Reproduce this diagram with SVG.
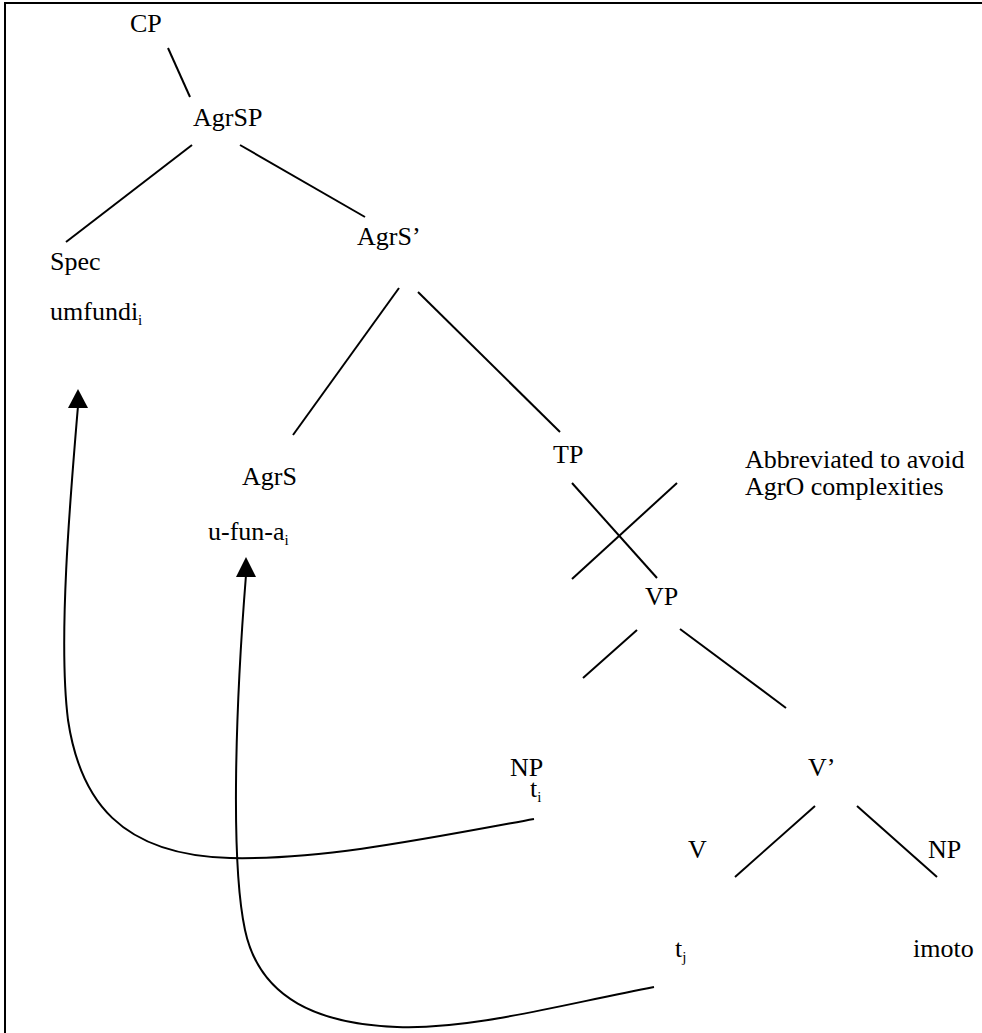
<svg xmlns="http://www.w3.org/2000/svg" width="982" height="1033" viewBox="0 0 982 1033">
<style>
text{font-family:'Liberation Serif','Times New Roman',serif;font-size:26px;fill:#000}
.sub{font-size:15px}
.edge{stroke:#000;stroke-width:2;fill:none}
.mv{stroke:#000;stroke-width:2;fill:none}
.ah{fill:#000}
</style>
<rect x="0" y="0" width="982" height="1033" fill="#fff"/>
<rect x="5" y="3" width="990" height="1040" fill="none" stroke="#000" stroke-width="2"/>
<g id="connectors">
<line class="edge" x1="168" y1="48" x2="190" y2="97"/>
<line class="edge" x1="192" y1="145" x2="66" y2="242"/>
<line class="edge" x1="240" y1="145" x2="365" y2="217"/>
<line class="edge" x1="399" y1="288" x2="293" y2="435"/>
<line class="edge" x1="418" y1="292" x2="560" y2="432"/>
<line class="edge" x1="572" y1="483" x2="657" y2="578"/>
<line class="edge" x1="677" y1="483" x2="572" y2="579"/>
<line class="edge" x1="637" y1="630" x2="583" y2="678"/>
<line class="edge" x1="680" y1="629" x2="786" y2="708"/>
<line class="edge" x1="815" y1="806" x2="735" y2="877"/>
<line class="edge" x1="857" y1="806" x2="937" y2="877"/>
<path class="mv" d="M 534,819 C 420,840 320,860 230,858 C 120,855 80,800 68,720 C 58,640 70,500 78,406"/>
<polygon class="ah" points="78,389 68,408 88,408"/>
<path class="mv" d="M 654,987 C 560,1005 470,1030 397,1027 C 320,1024 260,1000 245,930 C 230,860 236,700 246,575"/>
<polygon class="ah" points="246,557 236,577 256,577"/>
</g>
<g id="n-cp"><text x="130" y="32">CP</text></g>
<g id="n-agrsp"><text x="193" y="126">AgrSP</text></g>
<g id="n-spec"><text x="50" y="270">Spec</text><text x="50" y="320">umfundi<tspan class="sub" dy="5">i</tspan></text></g>
<g id="n-agrsbar"><text x="357" y="245">AgrS’</text></g>
<g id="n-agrs"><text x="242" y="485">AgrS</text><text x="208" y="540">u-fun-a<tspan class="sub" dy="5">i</tspan></text></g>
<g id="n-tp"><text x="553" y="463">TP</text></g>
<g id="note"><text x="745" y="468">Abbreviated to avoid</text><text x="745" y="495">AgrO complexities</text></g>
<g id="n-vp"><text x="645" y="605">VP</text></g>
<g id="n-np1"><text x="510" y="776">NP</text><text x="530" y="797">t<tspan class="sub" dy="5">i</tspan></text></g>
<g id="n-vbar"><text x="808" y="776">V’</text></g>
<g id="n-v"><text x="688" y="858">V</text><text x="675" y="957">t<tspan class="sub" dy="5">j</tspan></text></g>
<g id="n-np2"><text x="928" y="858">NP</text><text x="913" y="957">imoto</text></g>
</svg>
